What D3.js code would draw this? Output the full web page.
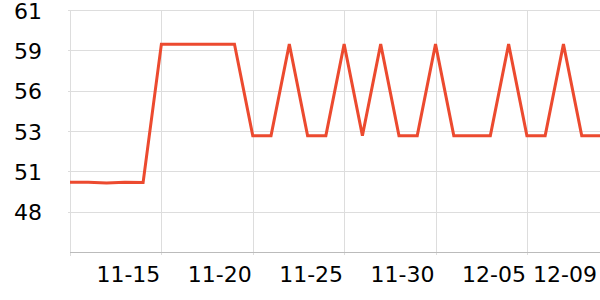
<!DOCTYPE html>
<html>
<head>
<meta charset="utf-8">
<script src="https://cdn.jsdelivr.net/npm/d3@7"></script>
<style>
  html, body { margin: 0; padding: 0; background: #fff; }
  svg { display: block; }
  text { font-family: "DejaVu Sans", sans-serif; font-size: 22px; fill: #000; }
</style>
</head>
<body>
<svg id="chart" width="600" height="300"></svg>
<script>
// ---- data ----
const dates = [
  "2023-11-10","2023-11-11","2023-11-12","2023-11-13","2023-11-14",
  "2023-11-15","2023-11-16","2023-11-17","2023-11-18","2023-11-19",
  "2023-11-20","2023-11-21","2023-11-22","2023-11-23","2023-11-24",
  "2023-11-25","2023-11-26","2023-11-27","2023-11-28","2023-11-29",
  "2023-11-30","2023-12-01","2023-12-02","2023-12-03","2023-12-04",
  "2023-12-05","2023-12-06","2023-12-07","2023-12-08","2023-12-09"
];
const values = [
  50.1, 50.1, 50.05, 50.1, 50.08,
  59.0, 59.0, 59.0, 59.0, 59.0,
  53.1, 53.1, 59.0, 53.1, 53.1,
  59.0, 53.1, 59.0, 53.1, 53.1,
  59.0, 53.1, 53.1, 53.1, 59.0,
  53.1, 53.1, 59.0, 53.1, 53.1
];
const yTicks = [48.2, 50.8, 53.4, 56.0, 58.6, 61.2];
const yTickLabels = ["48", "51", "53", "56", "59", "61"];
const yDomain = [45.6, 61.2];
const xTicks = ["2023-11-15","2023-11-20","2023-11-25","2023-11-30","2023-12-05","2023-12-09"];
const xTickLabels = ["11-15","11-20","11-25","11-30","12-05","12-09"];

// ---- drawing ----
(function () {
  const parse = d3.utcParse("%Y-%m-%d");
  const data = dates.map((d, i) => ({ date: parse(d), value: values[i] }));

  const mLeft = 70, mRight = 600, mTop = 10, mBottom = 252;
  const svg = d3.select("#chart");

  const x = d3.scaleUtc().domain(d3.extent(data, d => d.date)).range([mLeft, mRight]);
  const y = d3.scaleLinear().domain(yDomain).range([mBottom, mTop]);

  // horizontal gridlines (with small outward tick)
  svg.append("g").selectAll("line").data(yTicks).join("line")
    .attr("x1", mLeft - 2).attr("x2", mRight)
    .attr("y1", d => Math.round(y(d)) + 0.5).attr("y2", d => Math.round(y(d)) + 0.5)
    .attr("stroke", "#dddddd").attr("stroke-width", 1);

  // vertical gridlines (with small tick below axis)
  const xTickDates = xTicks.map(parse);
  svg.append("g").selectAll("line").data(xTickDates).join("line")
    .attr("x1", d => Math.round(x(d)) + 0.5).attr("x2", d => Math.round(x(d)) + 0.5)
    .attr("y1", mTop).attr("y2", mBottom + 3)
    .attr("stroke", "#dddddd").attr("stroke-width", 1);

  // left axis line
  svg.append("line")
    .attr("x1", mLeft + 0.5).attr("x2", mLeft + 0.5)
    .attr("y1", mTop).attr("y2", mBottom + 4)
    .attr("stroke", "#dddddd").attr("stroke-width", 1);

  // bottom axis line
  svg.append("line")
    .attr("x1", mLeft).attr("x2", mRight)
    .attr("y1", mBottom + 0.5).attr("y2", mBottom + 0.5)
    .attr("stroke", "#bbbbbb").attr("stroke-width", 1);

  // y labels
  svg.append("g").selectAll("text").data(yTicks).join("text")
    .attr("x", 42)
    .attr("y", d => y(d) + 8.5)
    .attr("text-anchor", "end")
    .text((d, i) => yTickLabels[i]);

  // x labels
  svg.append("g").selectAll("text").data(xTickDates).join("text")
    .attr("x", d => Math.min(x(d) - 1, 597))
    .attr("y", 282)
    .attr("text-anchor", "end")
    .text((d, i) => xTickLabels[i]);

  // line
  const line = d3.line().x(d => x(d.date)).y(d => y(d.value));
  svg.append("path")
    .datum(data)
    .attr("d", line)
    .attr("fill", "none")
    .attr("stroke", "#ec4a2f")
    .attr("stroke-width", 3)
    .attr("stroke-linejoin", "miter");
})();
</script>
</body>
</html>
